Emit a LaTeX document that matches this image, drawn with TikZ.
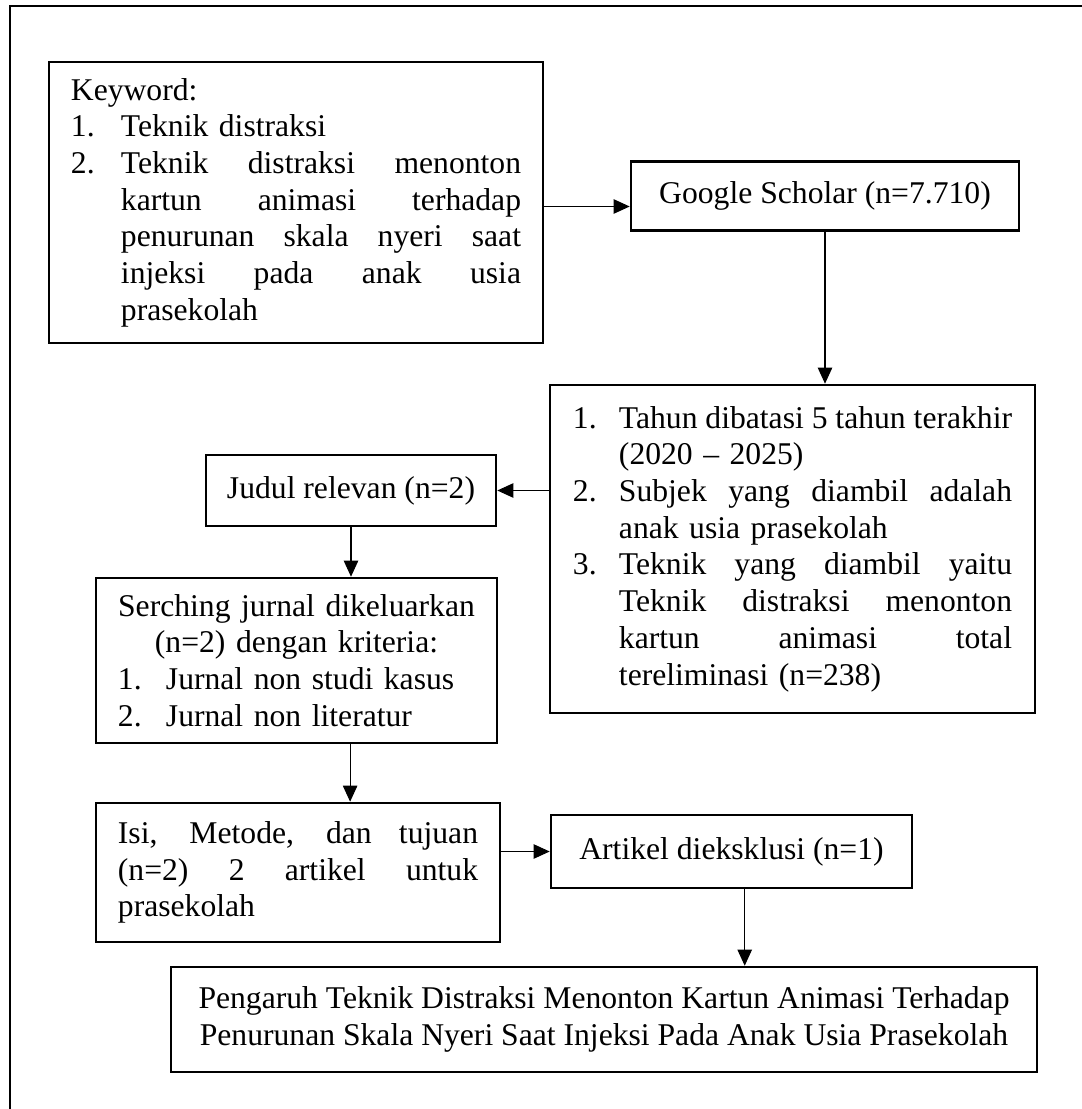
\documentclass[tikz,border=0pt]{standalone}
\usepackage{fontspec}
\setmainfont{Liberation Serif}
\usetikzlibrary{arrows.meta,positioning}
\newcommand{\lnum}[2]{\makebox[#1][l]{#2}}
% justified line: TikZ's align=left fixes \spaceskip, so reset it here
\newcommand{\jline}[2]{{\spaceskip=0pt\xspaceskip=0pt\makebox[#1][s]{#2}}}

\begin{document}
\begin{tikzpicture}[x=0.025cm,y=-0.025cm,
    box/.style={draw,line width=1.8pt,inner sep=0pt,font=\fontsize{22.5}{26.1}\selectfont},
    arr/.style={line width=0.75pt,-{Triangle[length=0.4cm,width=0.36cm]}}]
  \useasboundingbox (0,0) rectangle (1082,1109);
  \draw[line width=1.2pt] (10,1109) -- (10,6) -- (1082,6);

  \node[box,minimum width=12.35cm,minimum height=7.025cm,text width=11.25cm,align=left] (kw) at (296,202.5) {Keyword:\\
    \lnum{1.25cm}{1.}Teknik distraksi\\
    \lnum{1.25cm}{2.}\jline{10cm}{Teknik distraksi menonton}\\
    \hspace*{1.25cm}\jline{10cm}{kartun animasi terhadap}\\
    \hspace*{1.25cm}\jline{10cm}{penurunan skala nyeri saat}\\
    \hspace*{1.25cm}\jline{10cm}{injeksi pada anak usia}\\
    \hspace*{1.25cm}prasekolah};
  \node[box,minimum width=9.7cm,minimum height=1.725cm] (gs) at (825,196.2) {Google Scholar (n=7.710)};
  \node[box,minimum width=12.125cm,minimum height=8.2cm,text width=10.975cm,align=left] (cr) at (792.5,549) {%
    \lnum{1.15cm}{1.}\jline{9.825cm}{Tahun dibatasi 5 tahun terakhir}\\
    \hspace*{1.15cm}(2020 – 2025)\\
    \lnum{1.15cm}{2.}\jline{9.825cm}{Subjek yang diambil adalah}\\
    \hspace*{1.15cm}anak usia prasekolah\\
    \lnum{1.15cm}{3.}\jline{9.825cm}{Teknik yang diambil yaitu}\\
    \hspace*{1.15cm}\jline{9.825cm}{Teknik distraksi menonton}\\
    \hspace*{1.15cm}\jline{9.825cm}{kartun animasi total}\\
    \hspace*{1.15cm}tereliminasi (n=238)};
  \node[box,minimum width=7.25cm,minimum height=1.775cm] (jr) at (351,490.5) {Judul relevan (n=2)};
  \node[box,minimum width=10.025cm,minimum height=4.125cm,text width=8.925cm,align=center] (sj) at (296.5,660.5) {Serching jurnal dikeluarkan\\
    (n=2) dengan kriteria:\\
    \makebox[8.925cm][l]{\lnum{1.2cm}{1.}Jurnal non studi kasus}\\
    \makebox[8.925cm][l]{\lnum{1.2cm}{2.}Jurnal non literatur}};
  \node[box,minimum width=10.1cm,minimum height=3.475cm,text width=9cm,align=left] (isi) at (298,872.5) {%
    \jline{9cm}{Isi, Metode, dan tujuan}\\
    \jline{9cm}{(n=2) 2 artikel untuk}\\
    prasekolah};
  \node[box,minimum width=9.025cm,minimum height=1.825cm] (ar) at (731.5,851.5) {Artikel dieksklusi (n=1)};
  \node[box,minimum width=21.65cm,minimum height=2.625cm,align=center] (fin) at (604,1019.5) {Pengaruh Teknik Distraksi Menonton Kartun Animasi Terhadap\\
    Penurunan Skala Nyeri Saat Injeksi Pada Anak Usia Prasekolah};

  \draw[arr] ([yshift=-0.1cm]kw.east) -- ([yshift=-0.1cm]kw.east -| gs.west);
  \draw[arr] (gs.south) -- (gs.south |- cr.north);
  \draw[arr] (cr.west |- jr.east) -- (jr.east);
  \draw[arr] (jr.south) -- (jr.south |- sj.north);
  \draw[arr] ([xshift=1.34cm]sj.south) -- ([xshift=1.34cm]sj.south |- isi.north);
  \draw[arr] (isi.east |- ar.west) -- (ar.west);
  \draw[arr] ([xshift=0.33cm]ar.south) -- ([xshift=0.33cm]ar.south |- fin.north);
\end{tikzpicture}
\end{document}
